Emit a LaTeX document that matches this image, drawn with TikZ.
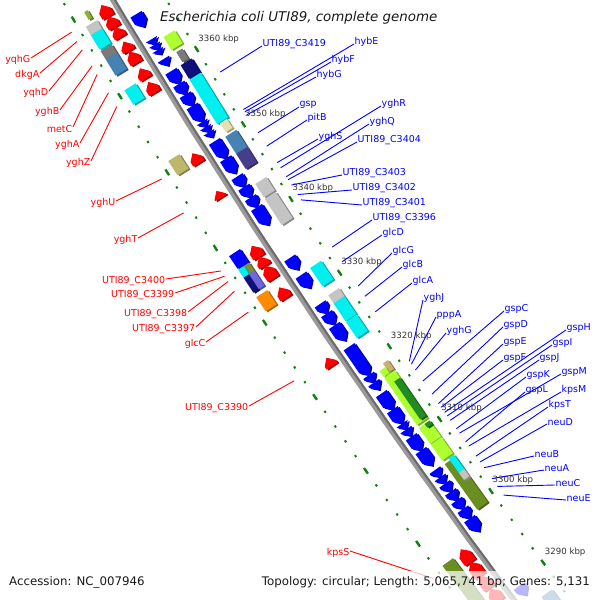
\documentclass[tikz,border=0pt]{standalone}
\usepackage{fontspec}
\setmainfont{DejaVu Sans}
\definecolor{cred}{HTML}{FF0000}
\definecolor{cblue}{HTML}{0000FF}
\definecolor{ccyan}{HTML}{00F0F0}
\definecolor{cgy}{HTML}{ADFF2F}
\definecolor{cyg}{HTML}{8DB03A}
\definecolor{cdgray}{HTML}{7A7A7A}
\definecolor{csilver}{HTML}{C4C4C4}
\definecolor{cnavy}{HTML}{10107A}
\definecolor{csteel}{HTML}{4682B4}
\definecolor{cdslate}{HTML}{483D8B}
\definecolor{cpale}{HTML}{E4E0B0}
\definecolor{cdkhaki}{HTML}{BDB76B}
\definecolor{ctan}{HTML}{C8B070}
\definecolor{colivedrab}{HTML}{6B8E23}
\definecolor{cforest}{HTML}{228B22}
\definecolor{corange}{HTML}{FF8C00}
\definecolor{cmslate}{HTML}{7068D8}
\definecolor{colive}{HTML}{7F8C3C}
\definecolor{cruler}{HTML}{108010}
\newcommand\kang[1]{148.46+(#1-3360)*0.07107}
\newcommand\gfwd[5]{%
 \pgfmathsetmacro\aA{\kang{#1}}\pgfmathsetmacro\aB{\kang{#2}}%
 \pgfmathsetmacro\aH{\kang{#2-min(0.75,#2-#1)}}\pgfmathsetmacro\rM{(#3+#4)/2}%
 \fill[#5!65!black,shift={(2,1)}] (\aA:#3) -- (\aH:#3) -- (\aB:\rM) -- (\aH:#4) -- (\aA:#4) -- cycle;
 \fill[#5] (\aA:#3) -- (\aH:#3) -- (\aB:\rM) -- (\aH:#4) -- (\aA:#4) -- cycle;}
\newcommand\grev[5]{%
 \pgfmathsetmacro\aA{\kang{#1}}\pgfmathsetmacro\aB{\kang{#2}}%
 \pgfmathsetmacro\aH{\kang{#1+min(0.75,#2-#1)}}\pgfmathsetmacro\rM{(#3+#4)/2}%
 \fill[#5!65!black,shift={(2,1)}] (\aB:#3) -- (\aH:#3) -- (\aA:\rM) -- (\aH:#4) -- (\aB:#4) -- cycle;
 \fill[#5] (\aB:#3) -- (\aH:#3) -- (\aA:\rM) -- (\aH:#4) -- (\aB:#4) -- cycle;}
\newcommand\gbox[5]{%
 \pgfmathsetmacro\aA{\kang{#1}}\pgfmathsetmacro\aB{\kang{#2}}%
 \fill[#5!70!black,shift={(2,1)}] (\aA:#3) -- (\aB:#3) -- (\aB:#4) -- (\aA:#4) -- cycle;
 \fill[#5] (\aA:#3) -- (\aB:#3) -- (\aB:#4) -- (\aA:#4) -- cycle;}
\newcommand\redg[2]{\gfwd{#1}{#2}{7189}{7202}{cred}}
\newcommand\blueg[2]{\grev{#1}{#2}{7164}{7177}{cblue}}
\newcommand\lcog[3]{\gbox{#1}{#2}{7207}{7220}{#3}}
\newcommand\rcog[3]{\gbox{#1}{#2}{7146}{7159}{#3}}
\tikzset{
 redlab/.style={text=red,font=\fontsize{9.5}{11}\selectfont,inner sep=0.5pt},
 bluelab/.style={text=blue,font=\fontsize{9.5}{11}\selectfont,inner sep=0.5pt},
 redline/.style={draw=red,line width=0.9pt},
 blueline/.style={draw=blue,line width=0.9pt},
 kbplab/.style={text=black!80,font=\fontsize{8.6}{10}\selectfont,inner sep=0pt},
 dot/.style={draw=cruler,line width=2pt},
 dash5/.style={draw=cruler,line width=2.3pt},
}
\newcommand\rlab[5]{\node[redlab,anchor=east] (#1) at (#2,#3) {#5};
 \pgfmathsetmacro\aE{\kang{#4}}
 \coordinate (#1e) at ([shift={(6279,-3684)}]\aE:7235);
 \draw[redline] ([yshift=2pt]#1.east) -- (#1e);}
\newcommand\blab[5]{\node[bluelab,anchor=west] (#1) at (#2,#3) {#5};
 \pgfmathsetmacro\aE{\kang{#4}}
 \coordinate (#1e) at ([shift={(6279,-3684)}]\aE:7129);
 \draw[blueline] (#1e) -- ([yshift=-2pt]#1.west);}
\begin{document}
\begin{tikzpicture}[x=1pt,y=-1pt]
\useasboundingbox (0,0) rectangle (600,600);
\fill[white] (0,0) rectangle (600,600);
\clip (0,0) rectangle (600,600);
\begin{scope}[shift={(6279,-3684)}]
% rulers
\foreach \k in {3286,3288,...,3372}{
 \pgfmathsetmacro\ta{\kang{\k-0.13}}\pgfmathsetmacro\tb{\kang{\k+0.13}}
 \draw[dot] (\ta:7137) -- (\tb:7137);
 \draw[dot] (\ta:7227) -- (\tb:7227);}
\foreach \k in {3290,3300,...,3370}{
 \pgfmathsetmacro\ta{\kang{\k-0.38}}\pgfmathsetmacro\tb{\kang{\k+0.38}}
 \draw[dash5] (\ta:7137) -- (\tb:7137);
 \draw[dash5] (\ta:7227) -- (\tb:7227);}
\foreach \k in {3290,3300,...,3360}{
 \pgfmathsetmacro\ta{\kang{\k}}
 \node[kbplab,anchor=west] (t\k) at ([shift={(1.5,-10.5)}]\ta:7137) {\k\ kbp};}
% backbone
\draw[line width=5.5pt,black!40] plot[domain=143.0:149.4,samples=60] (\x:7183);
\draw[line width=2pt,black!58] plot[domain=143.0:149.4,samples=60] (\x:7181.2);
% red CDS (forward)
\redg{3368.3}{3369.8}\redg{3366.9}{3368.3}\redg{3365.6}{3366.9}
\redg{3363.8}{3365.0}\redg{3362.2}{3363.7}\redg{3360.2}{3361.5}
\redg{3358.3}{3359.7}\redg{3349.0}{3350.3}\redg{3344.4}{3345.3}
\redg{3336.5}{3338.0}\redg{3335.3}{3336.5}\redg{3333.6}{3335.3}
\redg{3331.0}{3332.4}\redg{3321.8}{3322.9}\redg{3294.9}{3296.7}
\redg{3293.0}{3294.9}\redg{3291.3}{3293.0}\redg{3289.5}{3291.2}
\redg{3287.5}{3289.4}
% blue CDS (reverse)
\blueg{3365.2}{3366.9}\blueg{3362.9}{3363.6}\blueg{3362.2}{3362.9}
\blueg{3361.6}{3362.2}\blueg{3360.1}{3361.0}\blueg{3357.7}{3359.4}
\blueg{3356.3}{3357.7}\blueg{3354.8}{3356.3}\blueg{3352.7}{3354.8}
\blueg{3352.0}{3352.7}\blueg{3351.3}{3352.0}\blueg{3350.6}{3351.3}
\blueg{3347.8}{3350.1}\blueg{3345.8}{3347.8}\blueg{3344.0}{3345.4}
\blueg{3342.6}{3344.0}\blueg{3341.3}{3342.6}\blueg{3338.9}{3341.3}
\blueg{3332.9}{3334.5}\blueg{3330.4}{3332.2}\blueg{3327.0}{3328.3}
\blueg{3325.5}{3327.0}\blueg{3323.3}{3325.4}\blueg{3318.6}{3322.5}
\blueg{3317.6}{3318.6}\blueg{3316.6}{3317.6}\blueg{3313.9}{3316.1}
\blueg{3312.0}{3313.9}\blueg{3311.2}{3312.0}\blueg{3310.3}{3311.2}
\blueg{3308.3}{3310.2}\blueg{3306.2}{3308.3}\blueg{3304.6}{3305.6}
\blueg{3303.7}{3304.6}\blueg{3302.6}{3303.7}\blueg{3301.4}{3302.6}
\blueg{3300.2}{3301.4}\blueg{3298.9}{3300.2}\blueg{3297.1}{3298.9}
\blueg{3288.2}{3289.5}
% right COG track
\rcog{3361.4}{3363.1}{cgy}
\gbox{3359.6}{3360.9}{7149}{7156}{cdgray}
\rcog{3357.6}{3359.4}{cnavy}
\rcog{3351.6}{3357.5}{ccyan}
\gbox{3350.3}{3351.5}{7148}{7156}{cpale}
\rcog{3347.6}{3349.9}{csteel}
\rcog{3345.6}{3347.6}{cdslate}
\rcog{3341.8}{3343.6}{csilver}
\rcog{3338.1}{3341.6}{csilver}
\rcog{3329.8}{3332.3}{ccyan}
\rcog{3327.5}{3328.6}{csilver}
\rcog{3325.1}{3327.5}{ccyan}
\rcog{3322.8}{3325.0}{ccyan}
\gbox{3317.6}{3318.8}{7146}{7152}{ctan}
\gbox{3317.5}{3318.3}{7152}{7159}{cgy}
\rcog{3310.9}{3317.4}{cgy}
\gbox{3311.2}{3316.4}{7146}{7153}{cforest}
\rcog{3308.3}{3310.5}{cgy}
\gbox{3310.0}{3310.5}{7146}{7152}{cforest}
\rcog{3306.0}{3308.2}{cgy}
\rcog{3299.2}{3305.5}{colivedrab}
\gbox{3303.8}{3305.8}{7146}{7152.5}{ccyan}
\gbox{3302.8}{3303.8}{7146}{7152.5}{csilver}
\rcog{3285.5}{3287.0}{csteel}
% left COG track
\gbox{3369.1}{3370.1}{7210}{7214}{cyg}
\lcog{3367.5}{3368.6}{csilver}
\lcog{3365.6}{3367.5}{ccyan}
\lcog{3364.3}{3365.4}{cdgray}
\lcog{3362.2}{3364.3}{csteel}
\lcog{3358.4}{3360.3}{ccyan}
\lcog{3349.1}{3351.0}{cdkhaki}
\lcog{3336.7}{3338.4}{cblue}
\gbox{3335.5}{3336.6}{7207}{7213.5}{colive}
\gbox{3335.5}{3336.6}{7213.5}{7220}{ccyan}
\gbox{3333.5}{3335.5}{7213.5}{7220}{cnavy}
\gbox{3333.5}{3335.5}{7207}{7213.5}{cmslate}
\lcog{3331.0}{3332.9}{corange}
\lcog{3293.6}{3296.4}{colivedrab}
\lcog{3290.8}{3293.6}{colivedrab}
\lcog{3286.0}{3290.8}{colivedrab}
\end{scope}
% red labels
\rlab{yqhG}{31}{60}{3368.9}{yqhG}
\rlab{dkgA}{40}{75}{3367.7}{dkgA}
\rlab{yqhD}{49}{93}{3366.6}{yqhD}
\rlab{yghB}{60}{112}{3364.5}{yghB}
\rlab{metC}{73}{129}{3363.4}{metC}
\rlab{yghA}{80}{145}{3361.0}{yghA}
\rlab{yghZ}{91}{163}{3359.2}{yghZ}
\rlab{yghU}{116}{203}{3349.7}{yghU}
\rlab{yghT}{138}{240}{3345.2}{yghT}
\rlab{cA}{166}{281}{3337.5}{UTI89\_C3400}
\rlab{cB}{175}{295}{3336.8}{UTI89\_C3399}
\rlab{cC}{188}{314}{3336.1}{UTI89\_C3398}
\rlab{cD}{196}{329}{3334.8}{UTI89\_C3397}
\rlab{glcC}{206}{344}{3332.0}{glcC}
\rlab{cE}{249}{408}{3322.8}{UTI89\_C3390}
\rlab{kpsS}{350}{553}{3295.9}{kpsS}
% blue labels
\blab{c3419}{262}{44}{3356.4}{UTI89\_C3419}
\blab{hybE}{354}{42}{3351.4}{hybE}
\blab{hybF}{331}{60}{3351.1}{hybF}
\blab{hybG}{316}{75}{3350.7}{hybG}
\blab{gsp}{299}{105}{3348.3}{gsp}
\blab{pitB}{307}{118}{3346.5}{pitB}
\blab{yghR}{381}{104}{3343.6}{yghR}
\blab{yghQ}{369}{122}{3342.4}{yghQ}
\blab{yghS}{318}{137}{3344.3}{yghS}
\blab{c3404}{357}{140}{3342.0}{UTI89\_C3404}
\blab{c3403}{342}{173}{3341.3}{UTI89\_C3403}
\blab{c3402}{352}{188}{3340.0}{UTI89\_C3402}
\blab{c3401}{362}{203}{3339.3}{UTI89\_C3401}
\blab{c3396}{372}{218}{3332.9}{UTI89\_C3396}
\blab{glcD}{382}{233}{3330.9}{glcD}
\blab{glcG}{392}{251}{3327.6}{glcG}
\blab{glcB}{402}{265}{3326.2}{glcB}
\blab{glcA}{412}{281}{3324.1}{glcA}
\blab{yghJ}{423}{298}{3317.3}{yghJ}
\blab{pppA}{436}{315}{3316.9}{pppA}
\blab{yghG}{446}{331}{3316.1}{yghG}
\blab{gspC}{504}{309}{3314.6}{gspC}
\blab{gspD}{503}{325}{3312.8}{gspD}
\blab{gspE}{503}{342}{3311.5}{gspE}
\blab{gspF}{503}{358}{3311.0}{gspF}
\blab{gspH}{566}{328}{3310.3}{gspH}
\blab{gspI}{552}{343}{3309.8}{gspI}
\blab{gspJ}{539}{358}{3309.2}{gspJ}
\blab{gspK}{526}{375}{3308.0}{gspK}
\blab{gspM}{561}{372}{3307.4}{gspM}
\blab{gspL}{525}{390}{3306.2}{gspL}
\blab{kpsM}{561}{390}{3305.6}{kpsM}
\blab{kpsT}{548}{405}{3304.2}{kpsT}
\blab{neuD}{547}{422}{3303.4}{neuD}
\blab{neuB}{534}{454}{3302.6}{neuB}
\blab{neuA}{544}{468}{3301.1}{neuA}
\blab{neuC}{555}{483}{3300.0}{neuC}
\blab{neuE}{566}{498}{3298.8}{neuE}
% title and footer
\node[anchor=west,inner sep=0pt,font=\fontsize{13.4}{15}\selectfont\itshape,text=black!90] (title) at (160,18) {Escherichia coli UTI89, complete genome};
\fill[white,opacity=0.72] (0,571) rectangle (600,600);
\node[anchor=west,inner sep=0pt,font=\fontsize{11.8}{13}\selectfont,text=black!90] (acc) at (9,582) {Accession: NC\_007946};
\node[anchor=east,inner sep=0pt,font=\fontsize{11.8}{13}\selectfont,text=black!90] (topo) at (590,582) {Topology: circular; Length: 5,065,741 bp; Genes: 5,131};
\end{tikzpicture}
\end{document}
